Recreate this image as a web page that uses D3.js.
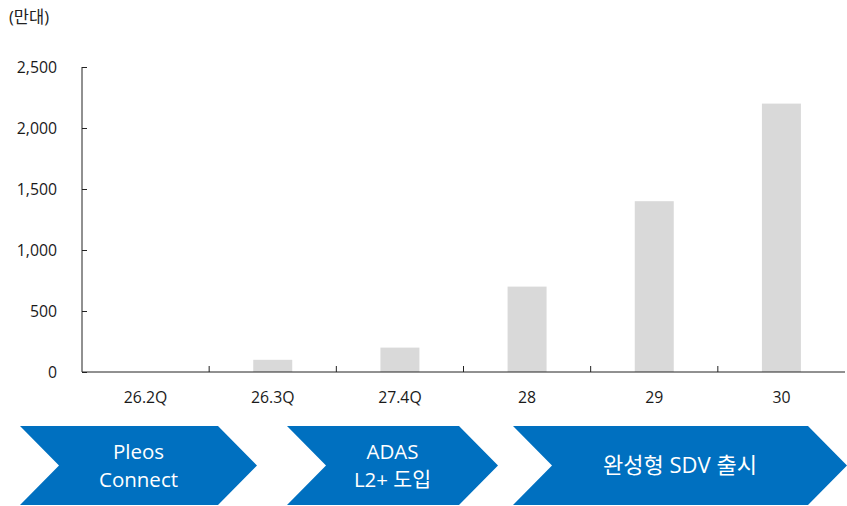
<!DOCTYPE html>
<html><head><meta charset="utf-8">
<script src="https://cdn.jsdelivr.net/npm/d3@7"></script>
<style>
body{margin:0;background:#fff;}
text{font-family:"Open Sans","Noto Sans CJK KR",sans-serif;}
</style></head>
<body><svg id="c" width="847" height="506"></svg>
<script>
const categories = ["26.2Q","26.3Q","27.4Q","28","29","30"];
const values = [0,100,200,700,1400,2200];
const yTicks = [0,500,1000,1500,2000,2500];
const unitLabel = "(만대)";
const phases = [
  {lines:["Pleos","Connect"]},
  {lines:["ADAS","L2+ 도입"]},
  {lines:["완성형 SDV 출시"]}
];

const svg = d3.select("#c");
const L = 82, R = 845, T = 67, B = 372;
const x = d3.scaleBand().domain(categories).range([L,R]).paddingInner(0).paddingOuter(0);
const y = d3.scaleLinear().domain([0,2500]).range([B,T]);
const bw = 39;
const fs = 15.8;

svg.append("text").attr("x",9).attr("y",23).attr("font-size",16.5).attr("fill","#222").text(unitLabel);

// bars
svg.selectAll("rect.bar").data(values).enter().append("rect")
  .attr("x",(d,i)=>x(categories[i])+x.bandwidth()/2-bw/2)
  .attr("y",d=>y(d)).attr("width",bw).attr("height",d=>B-y(d))
  .attr("fill","#d9d9d9");

// y axis
const ya = svg.append("g").attr("transform",`translate(${L},0)`)
  .call(d3.axisLeft(y).tickValues(yTicks).tickSize(-5).tickPadding(25).tickFormat(d3.format(",")));
ya.select(".domain").attr("stroke","#222").attr("d",`M0,${T}V${B}`);
ya.selectAll(".tick line").attr("stroke","#222");
ya.selectAll(".tick text").attr("font-size",fs).attr("fill","#1a1a1a").attr("font-family",null);

// x axis
const xa = svg.append("g").attr("transform",`translate(0,${B})`)
  .call(d3.axisBottom(x).tickSize(0).tickPadding(20));
xa.select(".domain").attr("stroke","#222").attr("d",`M${L},0H${R}`);
xa.selectAll(".tick text").attr("font-size",fs).attr("fill","#1a1a1a").attr("font-family",null);
// boundary ticks
categories.slice(1).forEach(c=>{
  xa.append("line").attr("x1",x(c)).attr("x2",x(c)).attr("y1",0).attr("y2",-6).attr("stroke","#222");
});

// chevrons
const chev = [[20,257],[287,498],[513,847]];
const cTop = 426, cBot = 505, depth = 39, cMid = (cTop+cBot)/2;
phases.forEach((p,i)=>{
  const [a,b] = chev[i];
  const pts = [[a,cTop],[b-depth,cTop],[b,cMid],[b-depth,cBot],[a,cBot],[a+depth,cMid]];
  svg.append("path").attr("d","M"+pts.map(q=>q.join(",")).join("L")+"Z").attr("fill","#0070c0");
  const cx = (a+b)/2;
  const n = p.lines.length, lh = 28;
  const size = n > 1 ? 20.5 : 22;
  p.lines.forEach((t,j)=>{
    svg.append("text").attr("x",cx).attr("y",cMid + (j-(n-1)/2)*lh).attr("dy","0.36em")
      .attr("text-anchor","middle").attr("font-size",size).attr("fill","#fff").text(t);
  });
});
</script></body></html>
